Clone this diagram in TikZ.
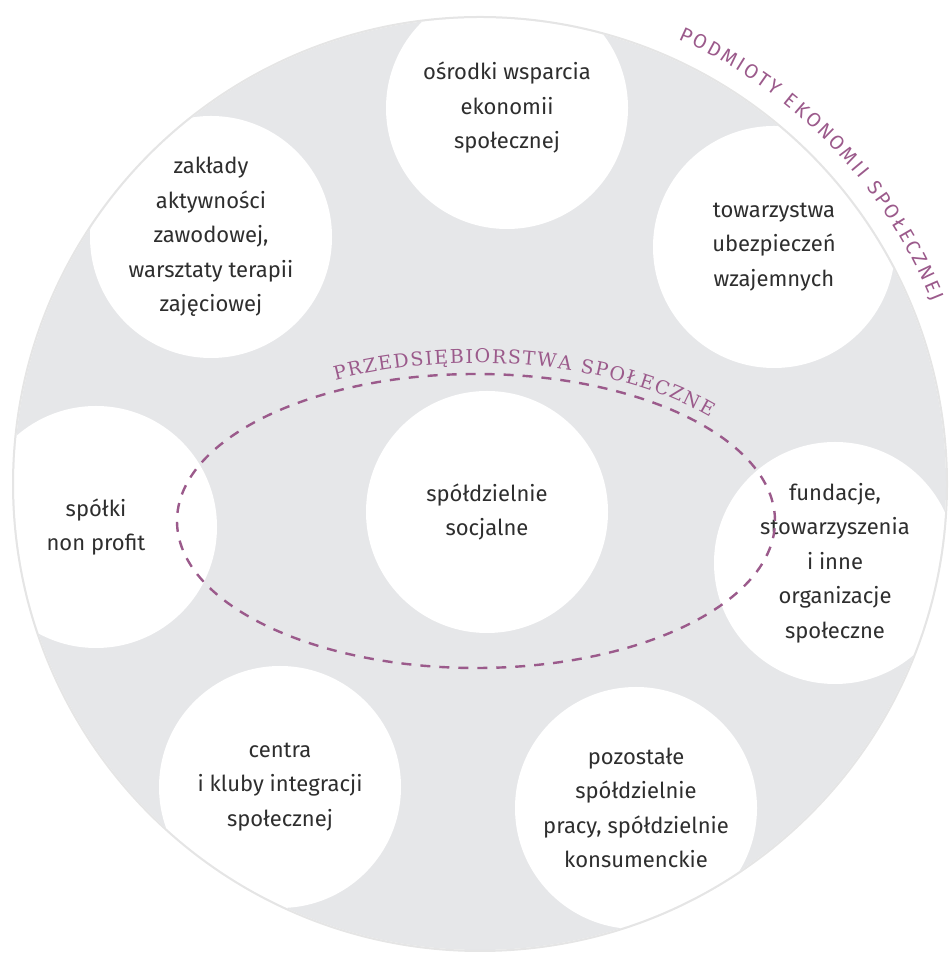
\documentclass[tikz,border=0pt]{standalone}
\usepackage{fontspec}
\setmainfont{Fira Sans}
\newfontfamily\slabfont{DejaVu Serif}
\usetikzlibrary{decorations.text}
\definecolor{fieldgrey}{HTML}{E6E7E9}
\definecolor{plum}{HTML}{9B5A8B}
\definecolor{ink}{HTML}{2E2E2E}
\newcommand\unitfont{\fontsize{22}{34.5}\selectfont}
\tikzstyle{unit}=[circle, fill=white, minimum size=242pt, inner sep=0pt, align=center, text=ink, font=\unitfont]
\tikzstyle{field}=[fill=fieldgrey]
\tikzstyle{rim}=[draw=black!10, line width=2pt]
\tikzstyle{border} = [draw=plum, line width=2.4pt, dash pattern=on 10pt off 9pt]

\begin{document}
\begin{tikzpicture}[x=1pt, y=1pt]
    \useasboundingbox (0,0) rectangle (949,955);
    \coordinate (centre) at (480,471);
    \coordinate (ell) at (476,434);

    % grey field with the white circles inside it
    \fill[field] (centre) circle[radius=466];
    \begin{scope}
        \clip (centre) circle[radius=466];
        \foreach \pos/\name/\txt in {
                                {(507,847)/osrodki/{ośrodki wsparcia\\ekonomii\\społecznej}},
                                {(211,718)/zaklady/{zakłady\\aktywności\\zawodowej,\\warsztaty terapii\\zajęciowej}},
                                {(774,708)/towarzystwa/{towarzystwa\\ubezpieczeń\\wzajemnych}},
                                {(96,428)/spolki/{spółki\\non profit}},
                                {(487,443)/socjalne/{spółdzielnie\\socjalne}},
                                {(835,392)/fundacje/{fundacje,\\stowarzyszenia\\i inne\\organizacje\\społeczne}},
                                {(280,168)/centra/{centra\\i kluby integracji\\społecznej}},
                                {(636,147)/pozostale/{pozostałe\\spółdzielnie\\pracy, spółdzielnie\\konsumenckie}}}
            \node[unit] (\name) at \pos {\txt};
    \end{scope}
    \draw[rim] (centre) circle[radius=467];

    % social enterprises
    \draw[border] (ell) ellipse[x radius=299, y radius=147];
    \path[shift={(476,434)}, decorate, decoration={text along path, text align={fit to path},
        text={|\slabfont\fontsize{19}{19}\selectfont\color{plum}|PRZEDSIĘBIORSTWA SPOŁECZNE}}]
        (117:310 and 158) arc[start angle=117, end angle=41, x radius=310, y radius=158];

    % outer label
    \path[shift={(480,471)}, decorate, decoration={text along path, text align={fit to path},
        text={|\fontsize{20}{20}\selectfont\color{plum}|PODMIOTY EKONOMII SPOŁECZNEJ}}]
        (66:487) arc[start angle=66, end angle=22, radius=487];

\end{tikzpicture}
\end{document}
